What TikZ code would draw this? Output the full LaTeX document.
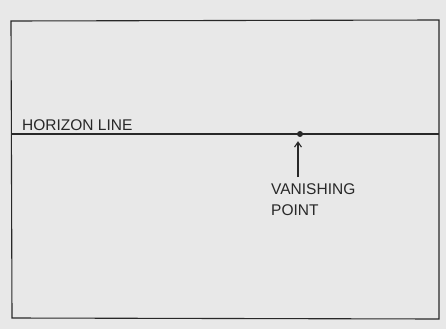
\documentclass[tikz,border=0pt]{standalone}
\usepackage{fontspec}
\setmainfont{Liberation Sans}
\usetikzlibrary{arrows.meta,positioning}
\definecolor{paper}{RGB}{232,232,232}
\definecolor{pencil}{RGB}{40,40,40}

\begin{document}
\begin{tikzpicture}[x=1pt,y=-1pt,
    pencilline/.style={draw=pencil, line width=1.1pt},
    hand/.style={font=\fontsize{15.5}{21}\selectfont, text=pencil, inner sep=0pt, align=left}]
        \fill[paper] (0,0) rectangle (446,329);
        \useasboundingbox (0,0) rectangle (446,329);
        % frame
        \draw[pencilline] (11,21) -- (439,20) -- (439,319) -- (12,318) -- cycle;
        % horizon
        \coordinate (hleft) at (11,134);
        \coordinate (hright) at (439,134);
        \draw[pencilline] (hleft) -- (hright);
        \node[hand, anchor=base west] (hlabel) at (22,130) {HORIZON LINE};
        % vanishing point
        \node[circle, fill=pencil, inner sep=0pt, minimum size=6pt] (vp) at (300,134) {};
        \node[hand, anchor=north west] (vplabel) at (271,183) {VANISHING\\POINT};
        \coordinate (arrowtail) at (298,177);
        \draw[pencilline, -{Straight Barb[length=5pt,width=7pt]}, shorten >=4pt] (arrowtail) -- (arrowtail |- vp.south);
    \end{tikzpicture}
\end{document}
